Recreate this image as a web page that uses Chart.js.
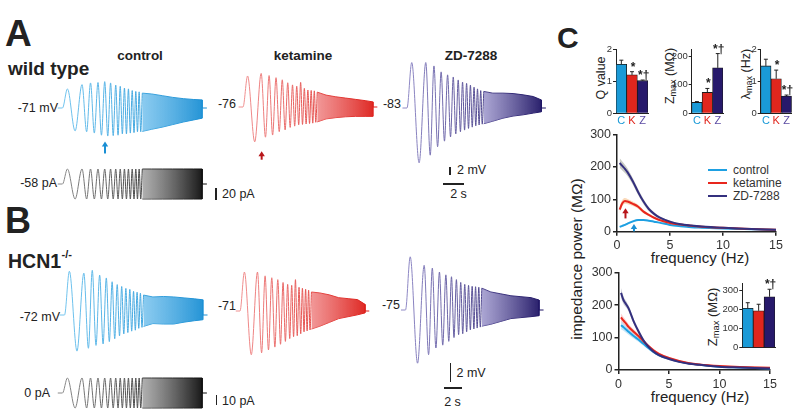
<!DOCTYPE html>
<html>
<head>
<meta charset="utf-8">
<script src="https://cdn.jsdelivr.net/npm/chart.js@4.4.1/dist/chart.umd.min.js"></script>
<style>
  body { margin: 0; background: #fff; }
  #fig { position: relative; width: 800px; height: 412px; overflow: hidden; font-family: "Liberation Sans", Arial, sans-serif; color: #222; }
  #fig canvas { position: absolute; }
  .t { position: absolute; line-height: 1; white-space: nowrap; }
  .b { font-weight: bold; }
  .c { transform: translateX(-50%); }
  .r { transform: translateX(-100%); }
  .rot { transform: translate(-50%, -50%) rotate(-90deg); }
  .bar { position: absolute; background: #222; }
  .leg { position: absolute; height: 2px; width: 19px; }
  sub { font-size: 0.72em; vertical-align: -0.25em; line-height: 0; }
</style>
</head>
<body>
<div id="fig">
  <!-- panel A -->
  <div class="t b" style="left:5px;top:15px;font-size:37px">A</div>
  <div class="t b" style="left:8px;top:58.5px;font-size:19px">wild type</div>
  <div class="t b c" style="left:140px;top:49px;font-size:13.5px">control</div>
  <div class="t b c" style="left:303px;top:49px;font-size:13.5px">ketamine</div>
  <div class="t b c" style="left:471px;top:49px;font-size:13.5px">ZD-7288</div>
  <div class="t r" style="left:58px;top:101.5px;font-size:12.5px">-71 mV</div>
  <div class="t r" style="left:57px;top:176.5px;font-size:12.5px">-58 pA</div>
  <div class="bar" style="left:215px;top:188px;width:1.5px;height:12px"></div>
  <div class="t" style="left:222px;top:187.5px;font-size:12.5px">20 pA</div>
  <div class="t r" style="left:236px;top:97.5px;font-size:12.5px">-76</div>
  <div class="t r" style="left:401px;top:97.5px;font-size:12.5px">-83</div>
  <div class="bar" style="left:449px;top:166.5px;width:1.5px;height:8.5px"></div>
  <div class="t" style="left:457px;top:163.5px;font-size:12.5px">2 mV</div>
  <div class="bar" style="left:443px;top:183px;width:21px;height:1.5px"></div>
  <div class="t c" style="left:458.5px;top:188px;font-size:12.5px">2 s</div>

  <!-- panel B -->
  <div class="t b" style="left:5px;top:202.5px;font-size:36px">B</div>
  <div class="t b" style="left:8px;top:252px;font-size:19.5px">HCN1</div>
  <div class="t b" style="left:61.5px;top:249px;font-size:11px">-/-</div>
  <div class="t r" style="left:60px;top:310.5px;font-size:12.5px">-72 mV</div>
  <div class="t r" style="left:50px;top:387px;font-size:12.5px">0 pA</div>
  <div class="bar" style="left:215.5px;top:395px;width:1.5px;height:10px"></div>
  <div class="t" style="left:222px;top:394.5px;font-size:12.5px">10 pA</div>
  <div class="t r" style="left:236px;top:299.5px;font-size:12.5px">-71</div>
  <div class="t r" style="left:400px;top:298.5px;font-size:12.5px">-75</div>
  <div class="bar" style="left:449.5px;top:363.3px;width:1.5px;height:18.4px"></div>
  <div class="t" style="left:456.5px;top:367px;font-size:12.5px">2 mV</div>
  <div class="bar" style="left:444px;top:387px;width:18px;height:1.5px"></div>
  <div class="t c" style="left:452.5px;top:395.5px;font-size:12.5px">2 s</div>

  <!-- panel C -->
  <div class="t b" style="left:557px;top:23px;font-size:30px">C</div>
  <div class="t rot" style="left:601px;top:78px;font-size:12.5px">Q value</div>
  <div class="t rot" style="left:670px;top:76px;font-size:12.5px">Z<sub>max</sub> (MΩ)</div>
  <div class="t rot" style="left:746px;top:74px;font-size:12.5px">λ<sub>max</sub> (Hz)</div>
  <div class="t rot" style="left:577px;top:259px;font-size:15.5px">impedance power (MΩ)</div>
  <div class="t c" style="left:700px;top:249.7px;font-size:15px">frequency (Hz)</div>
  <div class="t c" style="left:700px;top:388.5px;font-size:15px">frequency (Hz)</div>
  <div class="t rot" style="left:711.5px;top:316.5px;font-size:13px">Z<sub>max</sub> (MΩ)</div>
  <div class="leg" style="left:708px;top:169px;background:#1ea0e2"></div>
  <div class="t" style="left:733px;top:164px;font-size:12px;color:#333">control</div>
  <div class="leg" style="left:708px;top:182px;background:#e8261d"></div>
  <div class="t" style="left:733px;top:177px;font-size:12px;color:#333">ketamine</div>
  <div class="leg" style="left:708px;top:195px;background:#34307e"></div>
  <div class="t" style="left:733px;top:190px;font-size:12px;color:#333">ZD-7288</div>
</div>

<script>
const extT = [0.47, 1.2, 1.86, 2.3, 2.67, 3.03, 3.38, 3.71, 4.02, 4.31, 4.58, 4.83, 5.07, 5.29,
  5.5, 5.7, 5.9, 6.09, 6.28, 6.46, 6.64, 6.81, 6.98, 7.14, 7.3, 7.45, 7.6];
// dense part of the chirp: envelope times (s)
const envT = [7.6, 8.5, 9.5, 10.5, 11.5, 12.5, 13.3];

// wild type (mV from rest)
const ctrlA = [4.5, -5.4, 5.5, -5.6, 5.9, -5.9, 6.0, -6.4, 6.2, -6.6, 5.9, -6.5, 5.4, -6.4, 5.1, -6.1,
  4.7, -6.1, 4.5, -5.9, 4.1, -5.8, 3.9, -5.6, 3.8, -5.6, 3.5];
const ctrlAHi = [3.5, 3.3, 2.9, 2.5, 2.2, 2.0, 1.9];
const ctrlALo = [-5.5, -5.0, -4.5, -3.9, -3.3, -2.8, -2.4];
const ketA = [7.3, -8.2, 7.9, -7.1, 7.4, -6.6, 6.9, -5.8, 6.4, -5.4, 5.7, -4.8, 5.2, -4.5, 4.9, -4.2,
  5.8, -4.1, 4.4, -4.0, 4.0, -3.9, 3.9, -3.8, 3.8, -3.6, 3.5];
const ketAHi = [3.5, 2.8, 2.4, 2.1, 1.8, 1.5, 1.2];
const ketALo = [-3.5, -2.8, -2.5, -2.3, -2.2, -2.2, -2.2];
const zdA = [10.7, -12.9, 10.7, -11.1, 9.9, -9.1, 8.5, -7.8, 7.8, -6.8, 7.3, -6.1, 6.6, -5.6, 6.1, -5.2,
  5.8, -4.8, 5.4, -4.5, 4.9, -4.2, 4.5, -4.0, 4.1, -3.8, 3.9];
const zdAHi = [3.9, 3.5, 3.5, 3.4, 3.1, 2.7, 1.9];
const zdALo = [-3.7, -3.1, -2.4, -1.9, -1.6, -1.2, -0.9];
const stimA = [25, -25, 25, -25, 25, -25, 25, -25, 25, -25, 25, -25, 25, -25, 25, -25, 25, -25,
  25, -25, 25, -25, 25, -25, 25, -25, 25];
const stimAHi = [25, 25, 25, 25, 25, 25, 25];
const stimALo = [-25, -25, -25, -25, -25, -25, -25];

// HCN1-/-
const ctrlB = [4.6, -3.8, 4.4, -3.5, 4.7, -3.2, 4.2, -3.05, 3.9, -2.8, 3.5, -2.5, 3.2, -2.2, 3.0, -2.0,
  2.8, -1.85, 2.7, -1.7, 2.5, -1.6, 2.4, -1.4, 2.3, -1.3, 2.1];
const ctrlBHi = [2.1, 1.9, 1.95, 1.9, 1.8, 1.7, 1.6];
const ctrlBLo = [-1.2, -0.9, -0.95, -0.95, -0.75, -0.6, -0.5];
const ketB = [4.1, -4.6, 4.1, -4.4, 3.7, -4.1, 3.5, -3.8, 3.3, -3.5, 3.0, -3.2, 2.8, -2.9, 2.7, -2.7,
  3.3, -2.6, 2.5, -2.4, 2.4, -2.2, 2.3, -2.1, 2.2, -2.0, 2.0];
const ketBHi = [2.0, 1.9, 1.7, 1.4, 1.3, 1.2, 0.7];
const ketBLo = [-1.9, -1.6, -1.2, -0.8, -0.6, -0.4, -0.2];
const zdB = [5.6, -5.6, 4.7, -4.7, 4.4, -4.0, 4.0, -3.7, 3.7, -3.3, 3.5, -2.9, 3.2, -2.6, 2.9, -2.5,
  2.7, -2.3, 2.6, -2.1, 2.5, -2.0, 2.45, -1.9, 2.4, -1.8, 2.3];
const zdBHi = [2.3, 1.9, 1.7, 1.5, 1.4, 1.3, 1.05];
const zdBLo = [-1.7, -1.5, -1.2, -0.9, -0.8, -0.7, -0.6];
const stimB = [15, -15, 15, -15, 15, -15, 15, -15, 15, -15, 15, -15, 15, -15, 15, -15, 15, -15,
  15, -15, 15, -15, 15, -15, 15, -15, 15];
const stimBHi = [15, 15, 15, 15, 15, 15, 15];
const stimBLo = [-15, -15, -15, -15, -15, -15, -15];

// ---- panel C bars
const groups = ["C", "K", "Z"];
const qVal = [1.53, 1.2, 1.02];
const qErr = [0.13, 0.1, 0.02];
const zmaxVal = [38, 73, 159];
const zmaxErr = [3, 14, 50];
const fmaxVal = [1.48, 1.08, 0.54];
const fmaxErr = [0.21, 0.27, 0.03];
const hcnZmaxVal = [205, 192, 265];
const hcnZmaxErr = [29, 34, 39];
const sigMarks = ["", "*", "*†"];
const hcnMarks = ["", "", "*†"];
const qTicks = [0, 1, 2];
const zmaxTicks = [0, 100, 200];
const fmaxTicks = [0, 1, 2];
const hcnZmaxTicks = [0, 100, 200, 300];

// ---- impedance power (MΩ) vs frequency (Hz)
const freqs = [0.25, 0.5, 0.75, 1, 1.5, 2, 2.5, 3, 3.5, 4, 5, 6, 7, 8, 10, 12, 15];
const wtCtrl = [15, 18, 21, 25, 32, 36, 36, 34, 31, 28, 21, 17, 14, 12.5, 10, 8, 5];
const wtKet = [68, 88, 95, 93, 86, 77, 62, 52, 43, 36, 27, 22, 18, 15.5, 12, 9, 6];
const wtZd = [212, 203, 194, 183, 155, 122, 93, 70, 55, 44, 31, 23, 19, 16, 12, 9, 6];
const wtCtrlSem = [3, 3, 3, 3, 3, 3, 3, 2, 2, 2, 2, 1, 1, 1, 1, 1, 1];
const wtKetSem = [10, 10, 9, 8, 7, 6, 5, 4, 3, 3, 2, 2, 2, 2, 2, 2, 2];
const wtZdSem = [15, 14, 13, 12, 10, 9, 8, 6, 5, 4, 3, 2, 2, 2, 2, 2, 2];
const hcnCtrl = [138, 132, 125, 118, 105, 93, 80, 67, 55, 46, 35, 26, 20, 16, 10, 8, 5];
const hcnKet = [162, 152, 143, 133, 118, 104, 88, 73, 60, 50, 37, 28, 21, 17, 12, 9, 7];
const hcnZd = [238, 215, 203, 190, 150, 118, 90, 70, 56, 46, 34, 25, 19, 16, 10, 8, 5];
const hcnCtrlSem = [12, 11, 10, 9, 8, 7, 6, 5, 4, 4, 3, 2, 2, 2, 2, 2, 2];
const hcnKetSem = [12, 11, 10, 9, 8, 7, 6, 5, 4, 4, 3, 2, 2, 2, 2, 2, 2];
const hcnZdSem = [15, 12, 10, 9, 8, 7, 6, 5, 4, 4, 3, 2, 2, 2, 2, 2, 2];
const impTicks = [0, 100, 200, 300];
const freqTicks = [0, 5, 10, 15];

const BLUE = "#1a9ad7", RED = "#e0261d", NAVY = "#27196b";

Chart.defaults.font.family = '"Liberation Sans", Arial, sans-serif';
Chart.defaults.color = "#222";
Chart.defaults.animation = false;
Chart.defaults.plugins.legend.display = false;
Chart.defaults.plugins.tooltip.enabled = false;

// arrows marking resonance
Chart.register({
  id: "arrows",
  afterDatasetsDraw(chart, args, opts) {
    const list = (opts && opts.list) || [];
    const c = chart.ctx;
    list.forEach((a) => {
      const x = chart.scales.x.getPixelForValue(a.x);
      const y0 = chart.scales.y.getPixelForValue(a.tail);
      const y1 = chart.scales.y.getPixelForValue(a.tip);
      c.save();
      c.strokeStyle = a.color;
      c.fillStyle = a.color;
      c.lineWidth = 2;
      c.beginPath(); c.moveTo(x, y0); c.lineTo(x, y1 + 4); c.stroke();
      c.beginPath(); c.moveTo(x, y1); c.lineTo(x - 3.2, y1 + 5); c.lineTo(x + 3.2, y1 + 5); c.closePath(); c.fill();
      c.restore();
    });
  }
});

// error bars + significance marks
Chart.register({
  id: "errbars",
  afterDatasetsDraw(chart, args, opts) {
    if (!opts || !opts.err) return;
    const meta = chart.getDatasetMeta(0);
    const ys = chart.scales.y;
    const c = chart.ctx;
    c.save();
    c.strokeStyle = "#222";
    c.fillStyle = "#222";
    c.lineWidth = 1;
    c.font = 'bold 12px "Liberation Sans", Arial';
    c.textAlign = "center";
    c.textBaseline = "alphabetic";
    meta.data.forEach((bar, i) => {
      const v = chart.data.datasets[0].data[i];
      const yTop = ys.getPixelForValue(v + opts.err[i]);
      c.beginPath();
      c.moveTo(bar.x, bar.y); c.lineTo(bar.x, yTop);
      c.moveTo(bar.x - 2, yTop); c.lineTo(bar.x + 2, yTop);
      c.stroke();
      if (opts.marks[i]) c.fillText(opts.marks[i], bar.x + 1, yTop - 1);
    });
    c.restore();
  }
});

const fig = document.getElementById("fig");
function addCanvas(left, top, w, h) {
  const cv = document.createElement("canvas");
  cv.width = w; cv.height = h;
  cv.style.left = left + "px"; cv.style.top = top + "px";
  fig.appendChild(cv);
  return cv;
}

// horizontal colour ramp between two times of the chirp
function shade(c0, c1, t0, t1) {
  return (ctx) => {
    const ch = ctx.chart;
    if (!ch.chartArea) return c1;
    const xs = ch.scales.x;
    const g = ch.ctx.createLinearGradient(xs.getPixelForValue(t0), 0, xs.getPixelForValue(t1), 0);
    g.addColorStop(0, c0);
    g.addColorStop(1, c1);
    return g;
  };
}

// x0: chirp start (px), pps: px per s, base: resting level (px), ppu: px per mV or pA
const traceLayout = {
  ctrlA: { x0: 62.5, pps: 10.5, base: 108, ppu: 4.25 },
  ketA: { x0: 243, pps: 9.77, base: 107, ppu: 4.25 },
  zdA: { x0: 407, pps: 10.1, base: 108, ppu: 4.25 },
  stimA: { x0: 62.5, pps: 10.5, base: 184, ppu: 0.6 },
  ctrlB: { x0: 64.5, pps: 10.4, base: 315, ppu: 9.5 },
  ketB: { x0: 240, pps: 9.4, base: 311, ppu: 9.5 },
  zdB: { x0: 405.5, pps: 10.04, base: 310, ppu: 9.5 },
  stimB: { x0: 62.5, pps: 10.5, base: 393, ppu: 1.0 }
};
// line start/end colour, dense-part fill start/end colour
const traceCols = {
  ctrl: ["#72c4ee", "#1a8fd4", "rgba(110,190,236,0.8)", "rgba(26,143,212,0.95)"],
  ket: ["#f09090", "#dd1f1a", "rgba(238,125,125,0.8)", "rgba(221,31,26,0.95)"],
  zd: ["#908ac6", "#1f1565", "rgba(150,143,200,0.8)", "rgba(31,21,101,0.95)"],
  stim: ["#8a8a8a", "#0d0d0d", "rgba(150,150,150,0.75)", "rgba(13,13,13,0.95)"]
};

function drawTrace(lay, amps, hi, lo, col, arrow) {
  const left = Math.round(lay.x0 - 0.6 * lay.pps);
  const width = Math.round(14.6 * lay.pps);
  const top = Math.round(lay.base - 70);
  const height = 140;
  const cv = addCanvas(left, top, width, height);
  const n = envT.length - 1;
  const stroke = shade(col[0], col[1], 0, envT[n]);
  new Chart(cv, {
    type: "line",
    data: {
      datasets: [
        {
          data: [{ x: -0.45, y: 0 }, { x: 0, y: 0 }].concat(extT.map((t, i) => ({ x: t, y: amps[i] }))),
          borderColor: stroke, borderWidth: 1, cubicInterpolationMode: "monotone", fill: false
        },
        {
          data: envT.map((t, i) => ({ x: t, y: hi[i] })),
          borderColor: stroke, backgroundColor: shade(col[2], col[3], envT[0], envT[n]), borderWidth: 1, fill: "+1"
        },
        {
          data: envT.map((t, i) => ({ x: t, y: lo[i] })),
          borderColor: stroke, borderWidth: 1, fill: false
        },
        {
          data: [{ x: envT[n], y: hi[n] }, { x: envT[n], y: lo[n] }, { x: envT[n], y: 0 }, { x: 13.75, y: 0 }],
          borderColor: col[1], borderWidth: 1, fill: false
        }
      ]
    },
    options: {
      responsive: false,
      devicePixelRatio: 1,
      layout: { padding: 0 },
      elements: { point: { radius: 0 } },
      scales: {
        x: { type: "linear", display: false, min: (left - lay.x0) / lay.pps, max: (left + width - lay.x0) / lay.pps },
        y: { display: false, min: -(top + height - lay.base) / lay.ppu, max: (lay.base - top) / lay.ppu }
      },
      plugins: { arrows: { list: arrow ? [arrow] : [] } }
    }
  });
}

drawTrace(traceLayout.ctrlA, ctrlA, ctrlAHi, ctrlALo, traceCols.ctrl, { x: 4.05, tip: -7.9, tail: -10.7, color: "#1a8fd4" });
drawTrace(traceLayout.ketA, ketA, ketAHi, ketALo, traceCols.ket, { x: 1.91, tip: -10.4, tail: -12.4, color: "#b8161a" });
drawTrace(traceLayout.zdA, zdA, zdAHi, zdALo, traceCols.zd);
drawTrace(traceLayout.stimA, stimA, stimAHi, stimALo, traceCols.stim);
drawTrace(traceLayout.ctrlB, ctrlB, ctrlBHi, ctrlBLo, traceCols.ctrl);
drawTrace(traceLayout.ketB, ketB, ketBHi, ketBLo, traceCols.ket);
drawTrace(traceLayout.zdB, zdB, zdBHi, zdBLo, traceCols.zd);
drawTrace(traceLayout.stimB, stimB, stimBHi, stimBLo, traceCols.stim);

// box: canvas left/top/w/h, yW: y-axis width, xH: x-axis height, pt/pr: padding top/right
function drawBars(box, vals, errs, marks, ticks, max, showLabels) {
  const cv = addCanvas(box.left, box.top, box.w, box.h);
  new Chart(cv, {
    type: "bar",
    data: {
      labels: groups,
      datasets: [{
        data: vals,
        backgroundColor: [BLUE, RED, NAVY],
        borderColor: "#1a1a1a",
        borderWidth: 0.8,
        barPercentage: 1,
        categoryPercentage: 1
      }]
    },
    options: {
      responsive: false,
      devicePixelRatio: 1,
      layout: { padding: { top: box.pt, right: box.pr, left: 0, bottom: 0 } },
      scales: {
        x: {
          afterFit: (s) => { s.height = box.xH; },
          grid: { display: false, drawTicks: false },
          border: { display: true, color: "#222", width: 1 },
          ticks: {
            display: showLabels, padding: 1, maxRotation: 0, minRotation: 0, autoSkip: false,
            font: { size: 11 },
            color: (c) => [BLUE, RED, "#5b4ba3"][c.index]
          }
        },
        y: {
          min: 0, max: max,
          afterBuildTicks: (s) => { s.ticks = ticks.map((v) => ({ value: v })); },
          afterFit: (s) => { s.width = box.yW; },
          grid: { drawOnChartArea: false, tickLength: 3, color: "#222" },
          border: { display: true, color: "#222", width: 1 },
          ticks: { font: { size: 9.5 }, padding: 1, color: "#333" }
        }
      },
      plugins: { errbars: { err: errs, marks: marks } }
    }
  });
}

drawBars({ left: 590, top: 40, w: 62, h: 92, yW: 26, xH: 18.7, pt: 9.3, pr: 4 }, qVal, qErr, sigMarks, qTicks, 2, true);
drawBars({ left: 660, top: 40, w: 66, h: 92, yW: 31.7, xH: 18.7, pt: 9.3, pr: 3 }, zmaxVal, zmaxErr, sigMarks, zmaxTicks, 224, true);
drawBars({ left: 730, top: 40, w: 66, h: 92, yW: 30.7, xH: 18.7, pt: 9.3, pr: 4.3 }, fmaxVal, fmaxErr, sigMarks, fmaxTicks, 2, true);

function drawImp(box, curves, arrows) {
  const cv = addCanvas(box.left, box.top, box.w, box.h);
  const lines = curves.map((c) => ({
    data: freqs.map((f, i) => ({ x: f, y: c.v[i] })),
    borderColor: c.color, borderWidth: 2, cubicInterpolationMode: "monotone", fill: false
  }));
  const bands = [];
  curves.forEach((c) => {
    bands.push({ data: freqs.map((f, i) => ({ x: f, y: c.v[i] + c.sem[i] })), borderWidth: 0, backgroundColor: c.band, fill: "+1", cubicInterpolationMode: "monotone" });
    bands.push({ data: freqs.map((f, i) => ({ x: f, y: c.v[i] - c.sem[i] })), borderWidth: 0, fill: false, cubicInterpolationMode: "monotone" });
  });
  new Chart(cv, {
    type: "line",
    data: { datasets: lines.concat(bands) },
    options: {
      responsive: false,
      devicePixelRatio: 1,
      layout: { padding: { top: box.pt, right: box.pr, left: 0, bottom: 0 } },
      elements: { point: { radius: 0 } },
      scales: {
        x: {
          type: "linear", min: 0, max: 15,
          afterBuildTicks: (s) => { s.ticks = freqTicks.map((v) => ({ value: v })); },
          afterFit: (s) => { s.height = box.xH; },
          grid: { drawOnChartArea: false, tickLength: 4, color: "#222", lineWidth: 1.5 },
          border: { display: true, color: "#222", width: 1.5 },
          ticks: { font: { size: 12.5 }, padding: box.tp, color: "#333", maxRotation: 0 }
        },
        y: {
          min: 0, max: 300,
          afterBuildTicks: (s) => { s.ticks = impTicks.map((v) => ({ value: v })); },
          afterFit: (s) => { s.width = box.yW; },
          grid: { drawOnChartArea: false, tickLength: 4, color: "#222", lineWidth: 1.5 },
          border: { display: true, color: "#222", width: 1.5 },
          ticks: { font: { size: 12.5 }, padding: 2, color: "#333" }
        }
      },
      plugins: { arrows: { list: arrows } }
    }
  });
}

drawImp({ left: 585, top: 125, w: 200, h: 125, yW: 32, xH: 18.3, pt: 9, pr: 8, tp: 2 }, [
  { v: wtZd, sem: wtZdSem, color: "#34307e", band: "rgba(120,125,110,0.4)" },
  { v: wtKet, sem: wtKetSem, color: "#e8261d", band: "rgba(240,150,60,0.35)" },
  { v: wtCtrl, sem: wtCtrlSem, color: "#1ea0e2", band: "rgba(100,190,240,0.3)" }
], [
  { x: 0.8, tip: 72, tail: 41, color: "#b8161a" },
  { x: 1.6, tip: 24, tail: 1, color: "#1a8fd4" }
]);

drawImp({ left: 585, top: 263, w: 195, h: 127, yW: 33.5, xH: 20, pt: 9.7, pr: 5, tp: 3 }, [
  { v: hcnZd, sem: hcnZdSem, color: "#34307e", band: "rgba(110,110,140,0.35)" },
  { v: hcnKet, sem: hcnKetSem, color: "#e8261d", band: "rgba(240,120,120,0.35)" },
  { v: hcnCtrl, sem: hcnCtrlSem, color: "#1ea0e2", band: "rgba(90,180,235,0.35)" }
], []);

drawBars({ left: 712, top: 275, w: 66, h: 82, yW: 30.3, xH: 9.3, pt: 8.3, pr: 3 }, hcnZmaxVal, hcnZmaxErr, hcnMarks, hcnZmaxTicks, 335, false);
</script>
</body>
</html>
